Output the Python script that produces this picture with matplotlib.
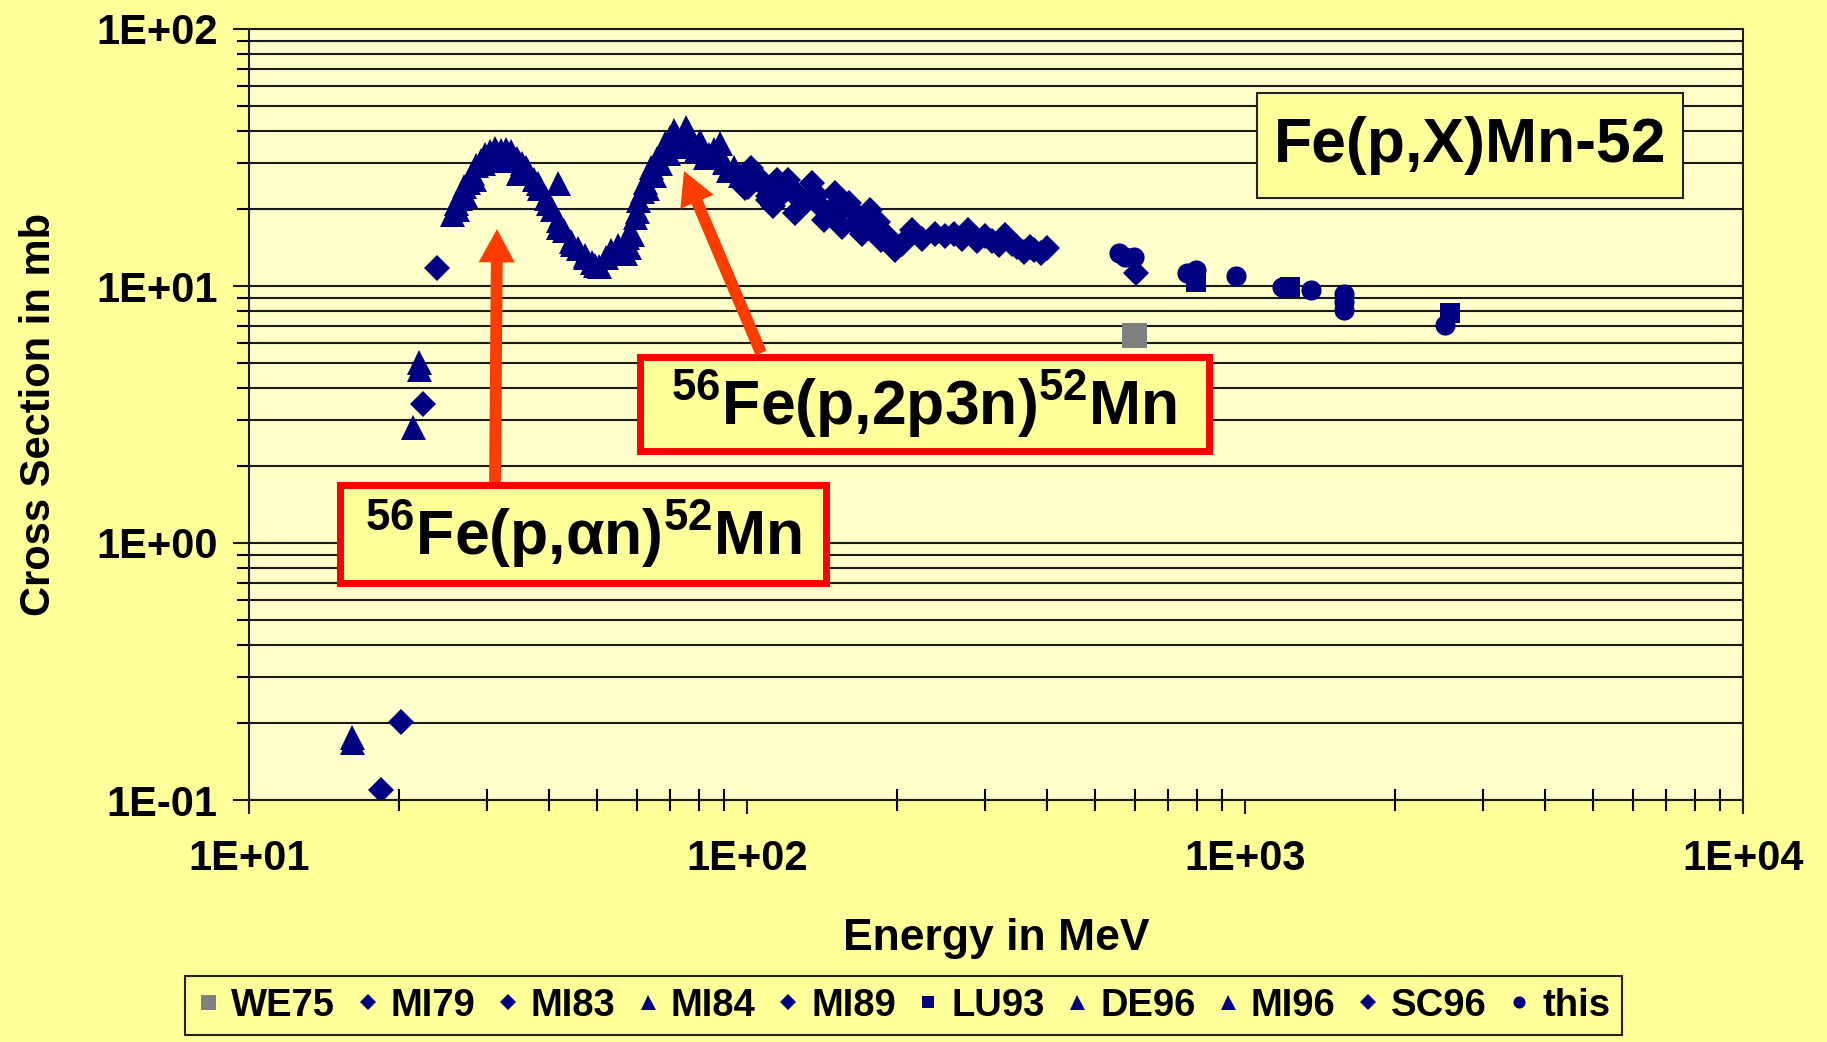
import matplotlib.pyplot as plt
from matplotlib.patches import Rectangle, FancyArrowPatch
from matplotlib.ticker import LogLocator, FuncFormatter, NullFormatter

# Messdaten Fe(p,X)Mn-52: Energie in MeV, Wirkungsquerschnitt in mb
we75_e = [599]
we75_s = [6.44]

mi79_e = [18.4, 20.2, 22.4, 23.8]
mi79_s = [0.109, 0.201, 3.47, 11.7]

mi83_e = [604]
mi83_s = [11.2]

mi84_e = [16.1, 16.1, 21.3, 21.9, 21.9, 41.8]
mi84_s = [0.176, 0.168, 2.82, 5.06, 4.75, 25.1]

mi89_e = [98.9, 100.4, 102, 105, 110, 110, 115, 118, 121, 125, 128, 132, 135,
          140, 143, 147, 150, 155, 160, 165, 170, 177, 180, 186, 192, 198,
          108, 113, 124, 138, 152, 168, 174, 183]
mi89_s = [24.0, 24.3, 28.7, 26.5, 22.3, 21.6, 25.8, 23.0, 25.8, 19.2, 21.6, 21.5, 25.1,
          20.5, 18.1, 19.5, 23.0, 17.0, 21.0, 17.5, 16.0, 19.8, 16.6, 15.1, 15.5, 13.8,
          24.5, 20.5, 23.5, 22.5, 19.0, 18.5, 17.2, 17.8]

lu93_e = [796, 1234, 2580]
lu93_s = [10.4, 9.94, 7.83]

de96_e = [25.6, 26.0, 26.5, 27.0, 27.5, 28.0, 28.6, 29.2, 29.8, 30.5, 31.2, 32.0, 32.8,
          33.6, 34.5, 35.4, 36.3, 37.3, 38.3, 39.4, 40.5, 41.7, 43.0, 44.3, 45.7, 47.2,
          48.8, 50.4, 26.2, 27.2, 28.3, 29.5, 30.8, 32.5, 34.7, 36.0, 38.1, 39.9, 41.8,
          44.5, 47.3, 49.5]
de96_s = [19.0, 21.0, 22.0, 24.5, 25.5, 27.5, 29.5, 31.0, 32.5, 33.5, 34.5, 33.8, 34.0,
          33.5, 31.5, 30.0, 28.0, 26.0, 24.0, 22.0, 20.0, 18.0, 16.5, 15.0, 14.0, 13.2,
          12.4, 12.0, 20.0, 22.5, 26.0, 30.0, 31.5, 31.0, 27.5, 29.0, 25.1, 21.0, 17.0,
          14.6, 13.0, 12.1]

mi96_e = [52.0, 53.4, 55.0, 56.8, 58.0, 58.7, 59.5, 60.4, 61.5, 62.5, 64.3, 66.0, 67.5,
          68.4, 70.0, 71.5, 73.0, 75.5, 77.3, 79.0, 80.5, 82.2, 84.0, 86.0, 88.1, 90.0,
          91.6, 94.0, 97.0, 57.5, 60.0, 63.0, 65.0, 67.0, 69.5, 72.0, 74.0]
mi96_s = [13.0, 13.8, 14.5, 13.4, 14.2, 16.0, 18.5, 21.6, 23.5, 25.5, 29.1, 31.5, 33.0,
          35.9, 38.0, 40.5, 36.5, 41.7, 35.0, 33.8, 36.5, 31.8, 32.5, 34.0, 35.9, 30.5,
          28.2, 29.0, 27.0, 15.5, 19.5, 24.0, 27.0, 30.0, 33.0, 35.0, 37.0]

sc96_e = [205, 214, 238, 250, 261, 278, 290, 300, 320, 329, 349, 360, 377, 390, 401,
          225, 270, 310, 340, 370]
sc96_s = [14.6, 16.5, 16.0, 15.6, 16.0, 16.5, 15.0, 15.6, 14.5, 15.8, 14.2, 13.6, 13.8,
          13.4, 14.0, 15.2, 15.3, 15.0, 14.6, 14.2]

this_e = [558, 575, 599, 766, 796, 958, 1189, 1355, 1578, 1578, 1578, 2518]
this_s = [13.4, 13.0, 13.0, 11.2, 11.5, 10.9, 9.94, 9.64, 9.35, 8.7, 8.07, 7.05]

plt.rcParams['font.family'] = 'Liberation Sans'
plt.rcParams['font.weight'] = 'bold'
plt.rcParams['mathtext.fontset'] = 'custom'
plt.rcParams['mathtext.rm'] = 'Liberation Sans'
plt.rcParams['mathtext.it'] = 'Liberation Sans'
plt.rcParams['mathtext.bf'] = 'Liberation Sans:bold'

W, H = 1827, 1042
navy = '#000080'
gelb = '#FFFF99'
rot = '#FF0000'
pfeil = '#FF3C00'


def fx(x):
    return x / W


def fy(y):
    return 1 - y / H


fig = plt.figure(figsize=(W / 100, H / 100), dpi=100, facecolor=gelb)
ax = fig.add_axes([fx(249), fy(800), (1743 - 249) / W, (800 - 29) / H])
ax.set_facecolor('#FFFFCC')

ax.plot(we75_e, we75_s, 's', color='#808080', ms=18, mew=0, label='WE75')
ax.plot(mi79_e, mi79_s, 'D', color=navy, ms=13.5, mew=0, label='MI79')
ax.plot(mi83_e, mi83_s, 'D', color=navy, ms=13.5, mew=0, label='MI83')
ax.plot(mi84_e, mi84_s, '^', color=navy, ms=18, mew=0, label='MI84')
ax.plot(mi89_e, mi89_s, 'D', color=navy, ms=13.5, mew=0, label='MI89')
ax.plot(lu93_e, lu93_s, 's', color=navy, ms=14, mew=0, label='LU93')
ax.plot(de96_e, de96_s, '^', color=navy, ms=18, mew=0, label='DE96')
ax.plot(mi96_e, mi96_s, '^', color=navy, ms=18, mew=0, label='MI96')
ax.plot(sc96_e, sc96_s, 'D', color=navy, ms=13.5, mew=0, label='SC96')
ax.plot(this_e, this_s, 'o', color=navy, ms=14.5, mew=0, label='this')

ax.set_xscale('log')
ax.set_yscale('log')
ax.set_xlim(10, 10000)
ax.set_ylim(0.1, 100)

fmt = FuncFormatter(lambda v, pos: f"{v:.0E}")
for achse in (ax.xaxis, ax.yaxis):
    achse.set_major_locator(LogLocator(base=10))
    achse.set_minor_locator(LogLocator(base=10, subs=range(2, 10)))
    achse.set_major_formatter(fmt)
    achse.set_minor_formatter(NullFormatter())

ax.grid(True, which='both', axis='y', color='#1a1a1a', lw=1.5)
ax.set_axisbelow(True)
for s in ax.spines.values():
    s.set_color('#1a1a1a')
    s.set_linewidth(1.5)

ax.tick_params(axis='both', which='major', labelsize=30, width=1.5, color='#1a1a1a')
ax.tick_params(axis='y', which='major', direction='out', length=11.5, pad=11)
ax.tick_params(axis='y', which='minor', direction='out', length=8.5, width=1.5)
ax.tick_params(axis='x', which='major', direction='out', length=10, pad=18)
ax.tick_params(axis='x', which='minor', direction='inout', length=16, width=1.5)

ax.set_xlabel('Energy in MeV', fontsize=32, fontweight='bold')
ax.xaxis.set_label_coords(0.5, (800 - 950) / 771)
ax.xaxis.label.set_va('baseline')
ax.set_ylabel('Cross Section in mb', fontsize=30, fontweight='bold')
ax.yaxis.set_label_coords((50 - 249) / 1494, 0.5)
ax.yaxis.label.set_va('baseline')

# Textkaesten mit Reaktionsangaben
def kasten(x0, y0, x1, y1, text, rand, lw, size):
    fig.add_artist(Rectangle((fx(x0), fy(y1)), (x1 - x0) / W, (y1 - y0) / H,
                             transform=fig.transFigure, fc=gelb, ec=rand, lw=lw, zorder=5))
    fig.text(fx((x0 + x1) / 2), fy((y0 + y1) / 2), text, fontsize=size,
             ha='center', va='center', zorder=6)


kasten(1257, 93, 1683, 198, 'Fe(p,X)Mn-52', '#222222', 1.5, 45)
kasten(640, 357, 1209, 451, r'$^{56}$Fe(p,2p3n)$^{52}$Mn', rot, 5, 45)
kasten(340, 485, 826, 583, r'$^{56}$Fe(p,αn)$^{52}$Mn', rot, 5, 45)

# Pfeile auf die beiden Maxima
for (xa, ya), (xb, yb) in [((495, 482), (497, 229)), ((761, 353), (684, 171))]:
    fig.add_artist(FancyArrowPatch((fx(xa), fy(ya)), (fx(xb), fy(yb)),
                                   transform=fig.transFigure,
                                   arrowstyle='simple,head_length=24,head_width=26,tail_width=8.5',
                                   color=pfeil, lw=0, shrinkA=0, shrinkB=0, zorder=7))

leg = ax.legend(loc='center', bbox_to_anchor=(fx(903.5), fy(1005.5)),
                bbox_transform=fig.transFigure, ncol=10, fontsize=27.5,
                markerscale=0.6, handlelength=0.6, handletextpad=0.3,
                columnspacing=0.55, borderpad=0.3, fancybox=False,
                facecolor=gelb, edgecolor='#222222', framealpha=1)
leg.get_frame().set_linewidth(1.5)

fig.savefig('out.png', dpi=100, facecolor=gelb)
